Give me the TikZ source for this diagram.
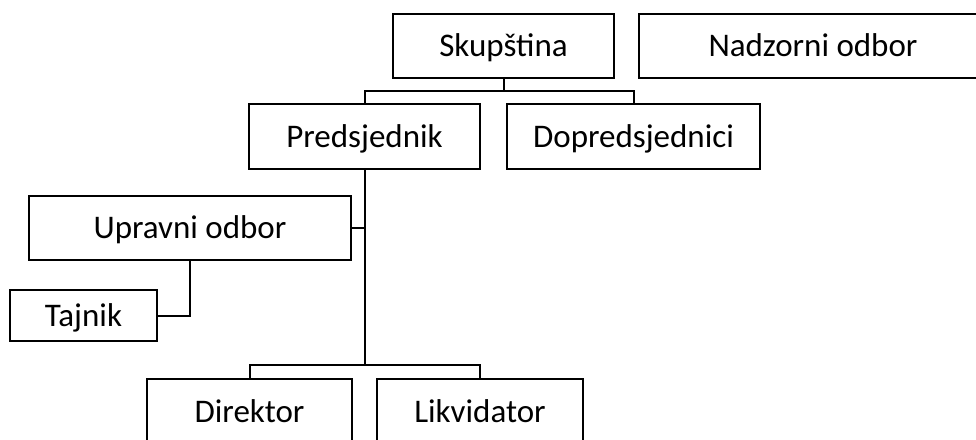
\documentclass[tikz,border=0pt]{standalone}
\usepackage{fontspec}
\setmainfont{Carlito}
\begin{document}
\begin{tikzpicture}[x=1pt,y=-1pt,
  box/.style={draw=black,line width=2pt,fill=white,inner sep=0pt,font=\fontsize{33}{40}\selectfont,text=black,text height=21.3pt,text depth=0pt},
  link/.style={draw=black,line width=2pt}]
\useasboundingbox (0,0) rectangle (976,439);
\clip (0,0) rectangle (976,439);
\node[box,minimum width=221pt,minimum height=64pt] (sk) at (503.5,46) {Skupština};
\node[box,minimum width=348pt,minimum height=64pt] (nad) at (813,46) {Nadzorni odbor};
\node[box,minimum width=231pt,minimum height=65pt] (pred) at (364.5,136.5) {Predsjednik};
\node[box,minimum width=253pt,minimum height=65pt] (dop) at (633.5,136.5) {Dopredsjednici};
\node[box,minimum width=322pt,minimum height=64pt] (upr) at (190,228) {Upravni odbor};
\node[box,minimum width=147pt,minimum height=51pt] (taj) at (83.5,315.5) {Tajnik};
\node[box,minimum width=205pt,minimum height=65pt] (dir) at (249.5,411.5) {Direktor};
\node[box,minimum width=206pt,minimum height=65pt] (lik) at (480,411.5) {Likvidator};
\coordinate (j1) at (503.5,91);
\coordinate (j2) at (364.5,365);
\draw[link] (sk.south) -- (j1) -| (pred.north);
\draw[link] (j1) -| (dop.north);
\draw[link] (pred.south) -- (j2);
\draw[link] (j2) -| (dir.north);
\draw[link] (j2) -| (lik.north);
\draw[link] (upr.east) -- (upr.east -| j2);
\draw[link] (upr.south) |- (taj.east);
\end{tikzpicture}
\end{document}
